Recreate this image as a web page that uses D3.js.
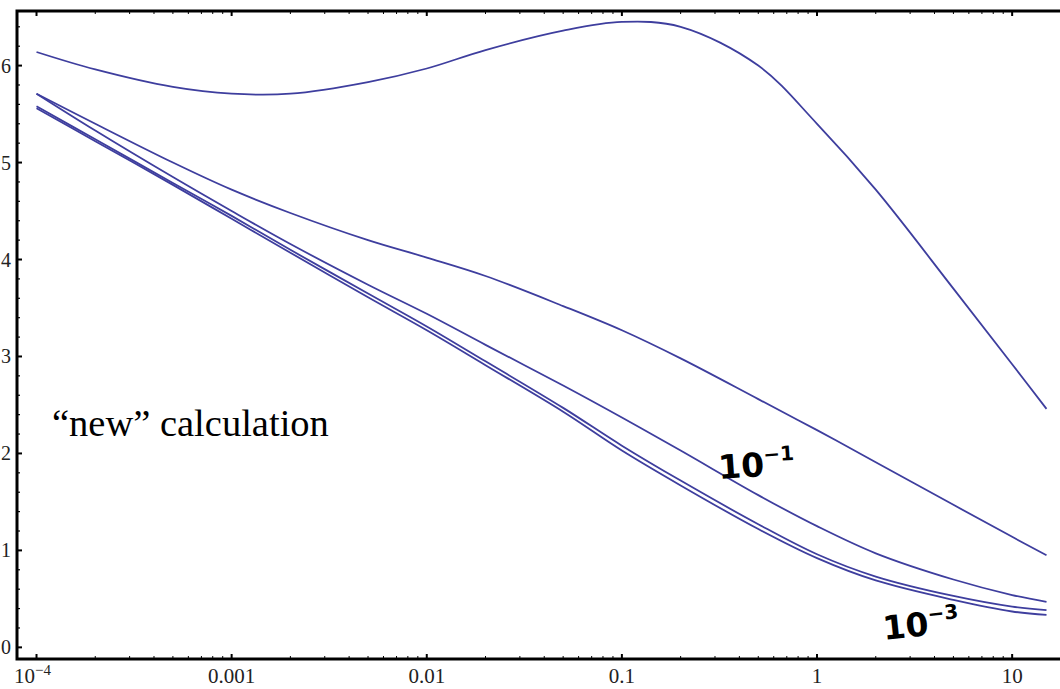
<!DOCTYPE html>
<html>
<head>
<meta charset="utf-8">
<script src="https://cdn.jsdelivr.net/npm/d3@7"></script>
<style>
  html, body { margin: 0; padding: 0; background: #fff; }
  svg { display: block; }
</style>
</head>
<body>
<svg id="chart" width="1060" height="689"></svg>
<script>
// Sample points along the horizontal (log) axis
const xValues = [1e-4, 2e-4, 5e-4, 1e-3, 2e-3, 5e-3, 0.01, 0.02, 0.05, 0.1, 0.2, 0.5, 1, 2, 5, 10, 15];

// Curve values at each sample point
const curveA = [6.14, 5.96, 5.78, 5.71, 5.71, 5.83, 5.97, 6.16, 6.36, 6.45, 6.40, 6.00, 5.40, 4.72, 3.70, 2.92, 2.46];
const curveB = [5.71, 5.40, 5.00, 4.72, 4.48, 4.20, 4.02, 3.83, 3.52, 3.27, 2.98, 2.56, 2.24, 1.91, 1.47, 1.14, 0.95];
const curveC = [5.71, 5.33, 4.85, 4.50, 4.16, 3.74, 3.44, 3.12, 2.70, 2.37, 2.03, 1.57, 1.25, 0.97, 0.70, 0.54, 0.47];
const curveD = [5.58, 5.24, 4.79, 4.45, 4.10, 3.65, 3.31, 2.95, 2.47, 2.08, 1.72, 1.27, 0.96, 0.73, 0.53, 0.42, 0.385];
const curveE = [5.56, 5.22, 4.77, 4.42, 4.07, 3.61, 3.27, 2.91, 2.43, 2.03, 1.67, 1.22, 0.92, 0.69, 0.49, 0.37, 0.335];
const curves = [curveA, curveB, curveC, curveD, curveE];

// Tick labels
const xTickValues = [1e-4, 1e-3, 1e-2, 0.1, 1, 10];
const xTickLabels = ["10", "0.001", "0.01", "0.1", "1", "10"];
const yTickValues = [0, 1, 2, 3, 4, 5, 6];

const svg = d3.select("#chart");
const pLeft = 17, pRight = 1062, pTop = 11, pBottom = 659;

const x = d3.scaleLog().domain([Math.pow(10, -4.1), Math.pow(10, 1.2555)]).range([pLeft, pRight]);
const y = d3.scaleLinear().domain([-0.12, 6.563]).range([pBottom, pTop]);

svg.append("rect").attr("width", 1060).attr("height", 689).attr("fill", "#fff");

// Curves
const line = d3.line()
  .x((d, i) => x(xValues[i]))
  .y(d => y(d))
  .curve(d3.curveCatmullRom.alpha(0.5));

const plot = svg.append("g");
curves.forEach(c => {
  plot.append("path")
    .datum(c)
    .attr("d", line)
    .attr("fill", "none")
    .attr("stroke", "#3e3e9e")
    .attr("stroke-width", 1.8);
});

// Minor x tick positions (2..9 within each decade)
const xMinor = [];
for (let e = -4; e <= 1; e++) {
  for (let m = 2; m <= 9; m++) {
    const v = m * Math.pow(10, e);
    if (x(v) < pRight) xMinor.push(v);
  }
}
const yMinor = d3.range(0, 6.6, 0.2).filter(v => Math.abs(v - Math.round(v)) > 1e-6);

const ticks = svg.append("g").attr("stroke", "#000");
// bottom and top ticks (pointing into the plot)
xTickValues.forEach(v => {
  ticks.append("line").attr("x1", x(v)).attr("x2", x(v)).attr("y1", pBottom).attr("y2", pBottom - 5).attr("stroke-width", 2);
  ticks.append("line").attr("x1", x(v)).attr("x2", x(v)).attr("y1", pTop).attr("y2", pTop + 5).attr("stroke-width", 2);
});
xMinor.forEach(v => {
  ticks.append("line").attr("x1", x(v)).attr("x2", x(v)).attr("y1", pBottom).attr("y2", pBottom - 3).attr("stroke-width", 1);
  ticks.append("line").attr("x1", x(v)).attr("x2", x(v)).attr("y1", pTop).attr("y2", pTop + 3).attr("stroke-width", 1);
});
// left ticks
yTickValues.forEach(v => {
  ticks.append("line").attr("x1", pLeft).attr("x2", pLeft + 5).attr("y1", y(v)).attr("y2", y(v)).attr("stroke-width", 2);
});
yMinor.forEach(v => {
  ticks.append("line").attr("x1", pLeft).attr("x2", pLeft + 3).attr("y1", y(v)).attr("y2", y(v)).attr("stroke-width", 1.2);
});

// Frame
svg.append("rect")
  .attr("x", pLeft).attr("y", pTop)
  .attr("width", pRight - pLeft).attr("height", pBottom - pTop)
  .attr("fill", "none").attr("stroke", "#000").attr("stroke-width", 3);

// Tick labels
const labelFont = "'Liberation Serif', 'Times New Roman', serif";
const xl = svg.append("g").attr("font-family", labelFont).attr("font-size", 21).attr("fill", "#222");
xTickValues.forEach((v, i) => {
  const t = xl.append("text").attr("x", x(v)).attr("y", 683).attr("text-anchor", "middle");
  if (i === 0) {
    t.attr("x", x(v) - 4);
    t.append("tspan").text(xTickLabels[i]);
    t.append("tspan").attr("dy", -8).attr("font-size", 15).text("−4");
  } else {
    t.text(xTickLabels[i]);
  }
});
const yl = svg.append("g").attr("font-family", labelFont).attr("font-size", 20).attr("fill", "#222");
yTickValues.forEach(v => {
  yl.append("text").attr("x", 11).attr("y", y(v) + 7).attr("text-anchor", "end").text(v);
});

// Annotation
svg.append("text")
  .attr("x", 52).attr("y", 436)
  .attr("font-family", labelFont)
  .attr("font-size", 38.5)
  .attr("fill", "#000")
  .text("“new” calculation");

// Curve labels
const hand = "'DejaVu Sans', sans-serif";
function powerLabel(px, py, exp, rot) {
  const t = svg.append("text")
    .attr("transform", `translate(${px},${py}) rotate(${rot})`)
    .attr("font-family", hand).attr("font-weight", "bold").attr("fill", "#000");
  t.append("tspan").attr("font-size", 33).text("10");
  t.append("tspan").attr("font-size", 20).attr("dy", -14).text(exp);
}
powerLabel(719, 479, "−1", -4);
powerLabel(884, 640, "−3", -6);
</script>
</body>
</html>
